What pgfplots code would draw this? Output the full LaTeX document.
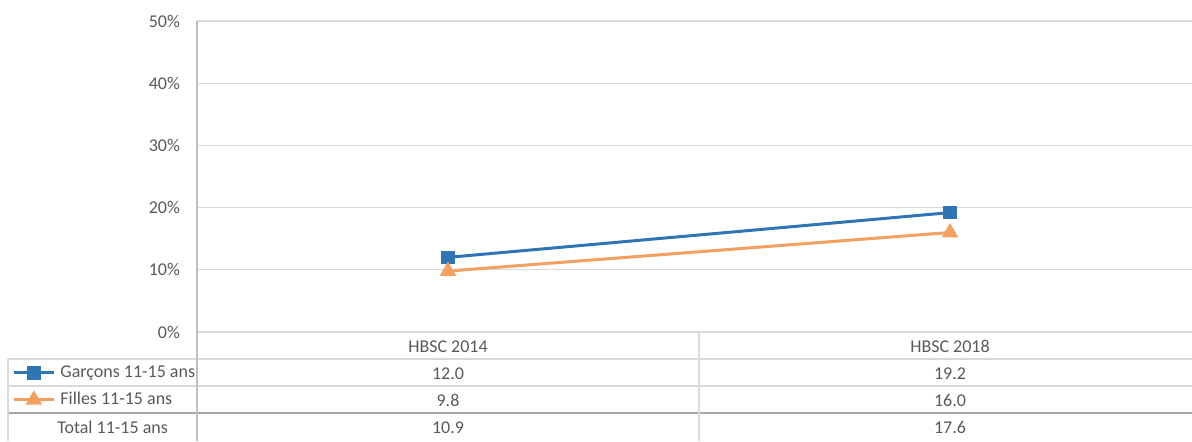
\documentclass[border=0pt]{standalone}
\usepackage{fontspec}
\setmainfont{Carlito}
\usepackage{pgfplots}
\pgfplotsset{compat=1.18}
\definecolor{garcons}{RGB}{46,117,182}
\definecolor{filles}{RGB}{244,160,96}
\definecolor{txt}{RGB}{89,89,89}
\definecolor{gridc}{RGB}{217,217,217}
\definecolor{axisc}{RGB}{191,191,191}
\definecolor{sepc}{RGB}{166,166,166}

\begin{document}
\begin{tikzpicture}[font=\fontsize{9}{11}\selectfont]
\useasboundingbox (0,0) rectangle (596pt,220.5pt);
\begin{axis}[
  at={(98.5pt,54.5pt)}, anchor=south west,
  scale only axis, width=502pt, height=155.5pt,
  xmin=0, xmax=2, ymin=0, ymax=50,
  ytick={0,10,...,50},
  xtick=\empty,
  /pgf/number format/assume math mode=true,
  yticklabel={\pgfmathprintnumber{\tick}\%},
  yticklabel style={text=txt, xshift=-5pt},
  major tick length=0pt,
  ymajorgrids, grid style={gridc, line width=0.6pt},
  axis line style={draw=none},
  clip=false,
  legend cell align=left,
  legend style={at={(axis description cs:-0.18426,-0.08682)}, anchor=north west,
    draw=none, fill=none, inner sep=0pt, row sep=0pt, column sep=0pt,
    text=txt, font=\fontsize{9}{11}\selectfont,
    nodes={inner xsep=2.5pt, inner ysep=0pt, minimum height=13.5pt}},
  legend image code/.code={\draw[mark repeat=2,mark phase=2] plot coordinates {(0pt,0pt) (10pt,0pt) (20pt,0pt)};},
]
\addplot[garcons, line width=1.5pt, mark=square*, mark size=2.6pt] coordinates {(0.5,12.0) (1.5,19.2)};
\addlegendentry{Garçons 11-15 ans}
\addplot[filles, line width=1.5pt, mark=triangle*, mark size=3.3pt] coordinates {(0.5,9.8) (1.5,16.0)};
\addlegendentry{Filles 11-15 ans}
\end{axis}
% data table under the plot
\draw[gridc, line width=0.6pt] (4pt,41pt) -- (600.5pt,41pt);
\draw[gridc, line width=0.6pt] (4pt,27.5pt) -- (600.5pt,27.5pt);
\draw[sepc, line width=1pt] (4pt,14pt) -- (600.5pt,14pt);
\draw[gridc, line width=0.6pt] (4pt,0pt) -- (4pt,41pt);
\draw[gridc, line width=0.6pt] (349.5pt,0pt) -- (349.5pt,54.5pt);
\draw[axisc, line width=0.6pt] (98.5pt,0pt) -- (98.5pt,210pt);
\begin{scope}[every node/.style={text=txt, anchor=mid}]
\node at (224pt,46.5pt) {HBSC 2014};
\node at (475pt,46.5pt) {HBSC 2018};
\node at (224pt,33pt) {12.0};
\node at (475pt,33pt) {19.2};
\node at (224pt,19.5pt) {9.8};
\node at (475pt,19.5pt) {16.0};
\node at (224pt,6pt) {10.9};
\node at (475pt,6pt) {17.6};
\node[anchor=mid west, inner xsep=0pt] at (28.5pt,6pt) {Total 11-15 ans};
\end{scope}
\end{tikzpicture}
\end{document}
